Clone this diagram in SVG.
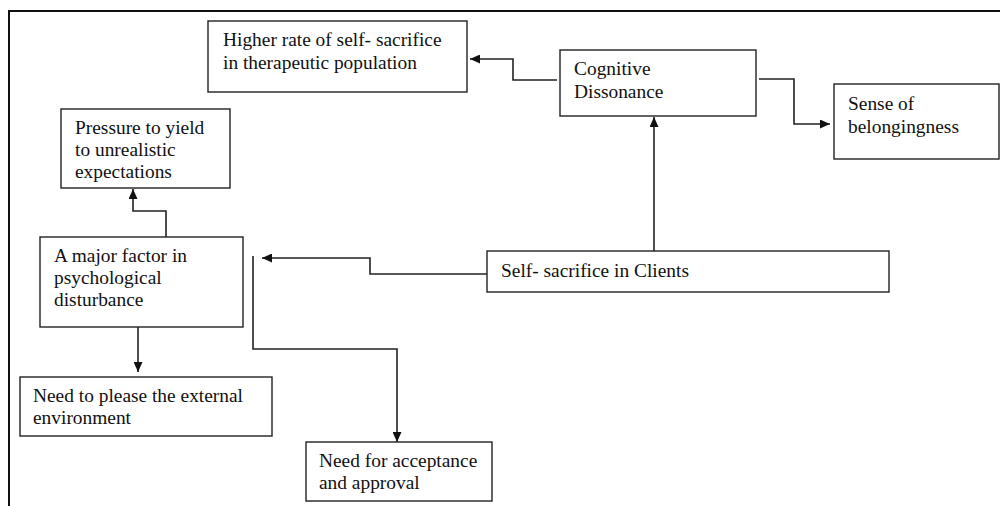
<svg xmlns="http://www.w3.org/2000/svg" width="1000" height="506" viewBox="0 0 1000 506">
<style>
.box{fill:#fff;stroke:#222;stroke-width:1.4}
.t{font-family:"Liberation Serif","Times New Roman",serif;font-size:19.4px;fill:#111}
.c{fill:none;stroke:#222;stroke-width:1.6}
</style>
<defs>
<marker id="ah" markerUnits="userSpaceOnUse" markerWidth="10" markerHeight="9" refX="10" refY="4.5" orient="auto">
<path d="M0,0 L10,4.5 L0,9 z" fill="#111"/>
</marker>
</defs>
<rect width="1000" height="506" fill="#fff"/>
<path d="M9,506 V11 H1000" fill="none" stroke="#111" stroke-width="2"/>
<g id="connectors">
<path class="c" d="M557,80 H513 V59 H470" marker-end="url(#ah)"/>
<path class="c" d="M759,79 H794 V124 H830" marker-end="url(#ah)"/>
<path class="c" d="M654,251 V117" marker-end="url(#ah)"/>
<path class="c" d="M487,274 H370 V258 H262" marker-end="url(#ah)"/>
<path class="c" d="M166,237 V211 H133 V189" marker-end="url(#ah)"/>
<path class="c" d="M138,327 V372" marker-end="url(#ah)"/>
<path class="c" d="M253,256 V349 H397 V442" marker-end="url(#ah)"/>
</g>
<g id="higher">
<rect class="box" x="208" y="21" width="259" height="71"/>
<text class="t" x="223" y="46">Higher rate of self- sacrifice</text>
<text class="t" x="223" y="69">in therapeutic population</text>
</g>
<g id="cognitive">
<rect class="box" x="560" y="50" width="196" height="66"/>
<text class="t" x="574" y="75">Cognitive</text>
<text class="t" x="574" y="98">Dissonance</text>
</g>
<g id="sense">
<rect class="box" x="834" y="84" width="165" height="75"/>
<text class="t" x="848" y="110">Sense of</text>
<text class="t" x="848" y="133">belongingness</text>
</g>
<g id="pressure">
<rect class="box" x="61" y="109" width="169" height="79"/>
<text class="t" x="75" y="134">Pressure to yield</text>
<text class="t" x="75" y="156">to unrealistic</text>
<text class="t" x="75" y="178">expectations</text>
</g>
<g id="major">
<rect class="box" x="40" y="237" width="203" height="90"/>
<text class="t" x="54" y="262">A major factor in</text>
<text class="t" x="54" y="284">psychological</text>
<text class="t" x="54" y="306">disturbance</text>
</g>
<g id="self">
<rect class="box" x="487" y="251" width="402" height="41"/>
<text class="t" x="501" y="277">Self- sacrifice in Clients</text>
</g>
<g id="please">
<rect class="box" x="20" y="377" width="252" height="59"/>
<text class="t" x="33" y="402">Need to please the external</text>
<text class="t" x="33" y="424">environment</text>
</g>
<g id="acceptance">
<rect class="box" x="306" y="442" width="186" height="59"/>
<text class="t" x="319" y="467">Need for acceptance</text>
<text class="t" x="319" y="489">and approval</text>
</g>
</svg>
